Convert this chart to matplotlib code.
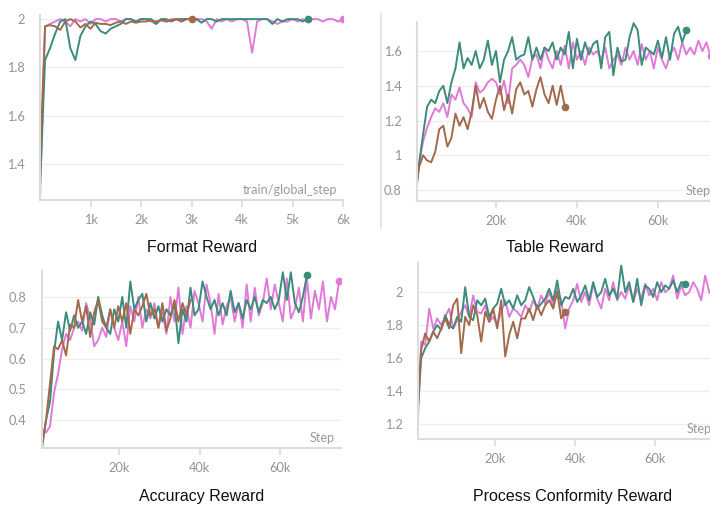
import numpy as np
import matplotlib
matplotlib.use("Agg")
import matplotlib.pyplot as plt
from matplotlib.lines import Line2D

# ---------------- data ----------------
PINK = "#e07ad8"
TEAL = "#3a8c7b"
BROWN = "#a2694b"

# Format Reward (logged every 100 steps)
fmt_interval = 100
fmt_pink = [1.25, 1.97, 1.98, 1.99, 2.0, 1.99, 1.97, 2.0, 1.99, 2.0,
            1.98, 2.0, 2.0, 1.99, 2.0, 2.0, 1.99, 2.0, 2.0, 1.99,
            2.0, 2.0, 1.99, 1.98, 2.0, 1.99, 2.0, 2.0, 1.99, 2.0,
            2.0, 2.0, 2.0, 1.99, 1.96, 2.0, 1.99, 2.0, 1.99, 2.0,
            2.0, 1.99, 1.86, 1.99, 2.0, 2.0, 1.99, 1.98, 1.99, 1.99,
            2.0, 1.99, 2.0, 1.99, 2.0, 2.0, 1.99, 2.0, 2.0, 1.99, 2.0]
fmt_teal = [1.31, 1.83, 1.88, 1.94, 1.99, 2.0, 1.88, 1.83, 1.93, 1.97,
            1.99, 1.98, 1.95, 1.94, 1.96, 1.97, 1.98, 2.0, 2.0, 1.99,
            2.0, 2.0, 2.0, 1.98, 2.0, 2.0, 1.99, 2.0, 2.0, 2.0,
            2.0, 2.0, 1.985, 2.0, 2.0, 1.99, 2.0, 2.0, 2.0, 2.0,
            2.0, 2.0, 2.0, 2.0, 2.0, 2.0, 1.98, 2.0, 1.99, 2.0,
            2.0, 2.0, 1.99, 2.0]
fmt_brown = [1.40, 1.97, 1.975, 1.97, 1.955, 1.99, 2.0, 1.99, 1.965, 1.98,
             1.96, 1.985, 1.98, 1.98, 1.975, 1.985, 1.99, 1.98, 1.99, 1.985,
             1.99, 1.99, 1.995, 1.99, 1.995, 1.99, 1.995, 2.0, 1.99, 2.0, 2.0]

# Table Reward (logged every 1000 steps)
tab_interval = 1000
tab_pink = [0.74, 0.95, 1.08, 1.16, 1.22, 1.27, 1.25, 1.30, 1.22, 1.35,
            1.32, 1.39, 1.30, 1.27, 1.22, 1.42, 1.36, 1.38, 1.42, 1.44,
            1.42, 1.35, 1.43, 1.30, 1.50, 1.52, 1.55, 1.52, 1.45, 1.56,
            1.58, 1.50, 1.62, 1.55, 1.50, 1.60, 1.52, 1.63, 1.50, 1.65,
            1.55, 1.60, 1.52, 1.62, 1.58, 1.60, 1.55, 1.62, 1.50, 1.55,
            1.58, 1.52, 1.62, 1.55, 1.60, 1.52, 1.64, 1.55, 1.60, 1.50,
            1.62, 1.55, 1.50, 1.58, 1.62, 1.55, 1.65, 1.58, 1.62, 1.58,
            1.66, 1.60, 1.65, 1.57]
tab_teal = [0.74, 0.95, 1.12, 1.28, 1.32, 1.30, 1.37, 1.40, 1.30, 1.42,
            1.50, 1.65, 1.50, 1.56, 1.52, 1.60, 1.50, 1.55, 1.66, 1.52,
            1.60, 1.42, 1.55, 1.60, 1.68, 1.55, 1.57, 1.58, 1.68, 1.55,
            1.62, 1.55, 1.62, 1.60, 1.65, 1.55, 1.62, 1.58, 1.71, 1.50,
            1.67, 1.55, 1.65, 1.58, 1.64, 1.66, 1.50, 1.68, 1.71, 1.46,
            1.62, 1.54, 1.55, 1.68, 1.76, 1.72, 1.52, 1.62, 1.60, 1.58,
            1.66, 1.56, 1.68, 1.55, 1.70, 1.74, 1.65, 1.72]
tab_brown = [0.74, 0.93, 1.00, 0.97, 0.96, 1.02, 1.15, 1.17, 1.05, 1.10,
             1.24, 1.17, 1.22, 1.15, 1.25, 1.40, 1.27, 1.33, 1.25, 1.21,
             1.32, 1.40, 1.26, 1.35, 1.24, 1.38, 1.42, 1.35, 1.37, 1.28,
             1.38, 1.45, 1.35, 1.30, 1.40, 1.29, 1.40, 1.28]

# Accuracy Reward (logged every 1000 steps, first at 700)
acc_start = 700
acc_interval = 1000
acc_pink = [0.37, 0.36, 0.38, 0.49, 0.55, 0.63, 0.68, 0.66, 0.70, 0.72,
            0.69, 0.78, 0.73, 0.64, 0.66, 0.70, 0.67, 0.76, 0.70, 0.66,
            0.72, 0.64, 0.77, 0.72, 0.80, 0.70, 0.76, 0.73, 0.78, 0.70,
            0.75, 0.68, 0.80, 0.72, 0.83, 0.68, 0.77, 0.70, 0.82, 0.78,
            0.72, 0.84, 0.78, 0.68, 0.81, 0.71, 0.77, 0.80, 0.72, 0.78,
            0.70, 0.84, 0.72, 0.83, 0.74, 0.78, 0.86, 0.76, 0.84, 0.78,
            0.72, 0.86, 0.73, 0.76, 0.83, 0.72, 0.86, 0.73, 0.82, 0.76,
            0.85, 0.72, 0.80, 0.76, 0.85]
acc_teal = [0.31, 0.40, 0.46, 0.62, 0.72, 0.66, 0.75, 0.69, 0.74, 0.70,
            0.72, 0.68, 0.75, 0.71, 0.80, 0.74, 0.70, 0.68, 0.76, 0.72,
            0.80, 0.70, 0.85, 0.76, 0.79, 0.81, 0.72, 0.78, 0.73, 0.77,
            0.72, 0.76, 0.74, 0.78, 0.65, 0.76, 0.72, 0.83, 0.74, 0.76,
            0.85, 0.80, 0.76, 0.79, 0.74, 0.78, 0.74, 0.82, 0.75, 0.78,
            0.73, 0.79, 0.76, 0.80, 0.75, 0.79, 0.78, 0.80, 0.76, 0.79,
            0.88, 0.79, 0.88, 0.78, 0.75, 0.80, 0.87]
acc_brown = [0.32, 0.40, 0.52, 0.64, 0.63, 0.66, 0.61, 0.71, 0.70, 0.79,
             0.72, 0.77, 0.67, 0.75, 0.79, 0.72, 0.70, 0.76, 0.70, 0.77,
             0.72, 0.78, 0.68, 0.76, 0.74, 0.77, 0.81, 0.74, 0.76, 0.70,
             0.78, 0.69, 0.73, 0.79, 0.72, 0.78, 0.74, 0.79]

# Process Conformity Reward (logged every 1000 steps, first at 500)
pro_start = 500
pro_interval = 1000
pro_pink = [1.11, 1.70, 1.68, 1.90, 1.78, 1.84, 1.80, 1.85, 1.90, 1.78,
            1.83, 1.88, 1.92, 1.85, 1.98, 1.88, 1.87, 1.92, 1.82, 1.85,
            1.80, 1.88, 1.95, 1.85, 1.90, 1.88, 1.85, 1.92, 1.88, 1.95,
            1.90, 1.98, 1.93, 2.00, 1.92, 2.02, 1.95, 1.78, 1.90, 1.95,
            2.05, 1.94, 2.00, 1.92, 2.05, 1.96, 1.90, 2.02, 1.95, 2.06,
            1.95, 2.00, 1.96, 2.04, 1.94, 2.02, 1.96, 2.05, 1.98, 2.02,
            1.95, 2.06, 2.00, 2.02, 2.10, 1.96, 2.04, 1.98, 2.00, 2.06,
            2.02, 1.95, 2.10, 2.00, 1.98]
pro_teal = [1.23, 1.60, 1.66, 1.70, 1.76, 1.80, 1.77, 1.86, 1.80, 1.78,
            1.85, 1.82, 2.03, 1.85, 1.83, 1.95, 1.92, 1.96, 1.85, 1.90,
            1.93, 2.02, 1.92, 1.95, 1.90, 1.98, 1.92, 1.95, 2.03, 1.97,
            1.90, 1.93, 1.96, 2.02, 1.95, 2.07, 1.92, 1.97, 1.96, 2.02,
            1.94, 1.98, 2.04, 1.95, 2.06, 1.97, 2.00, 2.08, 1.98, 2.02,
            1.96, 2.16, 2.00, 2.06, 1.94, 2.08, 1.92, 2.04, 2.02, 1.97,
            2.06, 2.00, 2.04, 2.02, 2.07, 2.00, 2.06, 2.05]
pro_brown = [1.28, 1.65, 1.75, 1.70, 1.76, 1.72, 1.78, 1.84, 1.78, 1.92,
             1.96, 1.63, 1.85, 1.80, 1.92, 1.86, 1.70, 1.88, 1.82, 1.90,
             1.78, 1.95, 1.61, 1.74, 1.82, 1.72, 1.84, 1.84, 1.90, 1.83,
             1.92, 1.86, 1.92, 1.95, 1.90, 2.00, 1.84, 1.88]

titles = ["Format Reward", "Table Reward", "Accuracy Reward", "Process Conformity Reward"]
xlabels = ["train/global_step", "Step", "Step", "Step"]

fmt_xticks = [1000, 2000, 3000, 4000, 5000, 6000]
fmt_xticklabels = ["1k", "2k", "3k", "4k", "5k", "6k"]
fmt_yticks = [1.4, 1.6, 1.8, 2.0]
fmt_yticklabels = ["1.4", "1.6", "1.8", "2"]

k_xticks = [20000, 40000, 60000]
k_xticklabels = ["20k", "40k", "60k"]
tab_yticks = [0.8, 1.0, 1.2, 1.4, 1.6]
tab_yticklabels = ["0.8", "1", "1.2", "1.4", "1.6"]
acc_yticks = [0.4, 0.5, 0.6, 0.7, 0.8]
acc_yticklabels = ["0.4", "0.5", "0.6", "0.7", "0.8"]
pro_yticks = [1.2, 1.4, 1.6, 1.8, 2.0]
pro_yticklabels = ["1.2", "1.4", "1.6", "1.8", "2"]

# ---------------- figure ----------------
W, H = 710, 505
fig = plt.figure(figsize=(W / 100, H / 100), dpi=100)
fig.patch.set_facecolor("white")

TICK_COL = "#92929c"
AXIS_COL = "#dcdcdc"
GRID_COL = "#eeeeee"
TICK_FONT = ["Lato", "DejaVu Sans"]


def px_axes(l, r, t, b):
    return fig.add_axes([l / W, 1 - b / H, (r - l) / W, (b - t) / H])


def style(ax, xlim, ylim, xt, xtl, yt, ytl, xlabel):
    ax.set_xlim(*xlim)
    ax.set_ylim(*ylim)
    ax.set_xticks(xt)
    ax.set_xticklabels(xtl)
    ax.set_yticks(yt)
    ax.set_yticklabels(ytl)
    for s in ["top", "right"]:
        ax.spines[s].set_visible(False)
    for s in ["left", "bottom"]:
        ax.spines[s].set_color(AXIS_COL)
        ax.spines[s].set_linewidth(1.5)
    ax.grid(axis="y", color=GRID_COL, lw=1.0)
    ax.set_axisbelow(True)
    ax.tick_params(axis="x", length=5, width=1.2, color=AXIS_COL, pad=5,
                   labelsize=9.2, labelcolor=TICK_COL)
    ax.tick_params(axis="y", length=0, pad=11, labelsize=9.2, labelcolor=TICK_COL)
    for lab in ax.get_xticklabels() + ax.get_yticklabels():
        lab.set_family(TICK_FONT)
    pos = ax.get_position()
    ax.text(1 - 6 / (pos.width * W), 4 / (pos.height * H), xlabel,
            transform=ax.transAxes, ha="right", va="bottom",
            fontsize=9.2, color="#9a9aa2", family=TICK_FONT)


def plot_series(ax, start, interval, vals, color, dot=True):
    x = start + interval * np.arange(len(vals))
    ax.plot(x, vals, color=color, lw=1.4, solid_joinstyle="round")
    if dot:
        ax.plot(x[-1], vals[-1], "o", color=color, ms=4.5, mec=color)


# Panel 1: Format Reward
ax1 = px_axes(40, 343, 15, 200)
plot_series(ax1, 0, fmt_interval, fmt_pink, PINK)
plot_series(ax1, 0, fmt_interval, fmt_teal, TEAL)
plot_series(ax1, 0, fmt_interval, fmt_brown, BROWN)
style(ax1, (0, 6000), (1.25, 2.017), fmt_xticks, fmt_xticklabels,
      fmt_yticks, fmt_yticklabels, xlabels[0])

# Panel 2: Table Reward
ax2 = px_axes(417, 717, 22, 201)
plot_series(ax2, 0, tab_interval, tab_pink, PINK)
plot_series(ax2, 0, tab_interval, tab_teal, TEAL)
plot_series(ax2, 0, tab_interval, tab_brown, BROWN)
style(ax2, (500, 74600), (0.737, 1.767), k_xticks, k_xticklabels,
      tab_yticks, tab_yticklabels, xlabels[1])

# Panel 3: Accuracy Reward
ax3 = px_axes(42, 341, 271, 448)
plot_series(ax3, acc_start, acc_interval, acc_pink, PINK)
plot_series(ax3, acc_start, acc_interval, acc_teal, TEAL)
plot_series(ax3, acc_start, acc_interval, acc_brown, BROWN, dot=False)
style(ax3, (700, 75200), (0.31, 0.884), k_xticks, k_xticklabels,
      acc_yticks, acc_yticklabels, xlabels[2])

# Panel 4: Process Conformity Reward
ax4 = px_axes(418, 718, 263, 439)
plot_series(ax4, pro_start, pro_interval, pro_pink, PINK)
plot_series(ax4, pro_start, pro_interval, pro_teal, TEAL)
plot_series(ax4, pro_start, pro_interval, pro_brown, BROWN)
style(ax4, (700, 75700), (1.11, 2.176), k_xticks, k_xticklabels,
      pro_yticks, pro_yticklabels, xlabels[3])

# separator line of the top-right panel
fig.add_artist(Line2D([381 / W, 381 / W], [1 - 13 / H, 1 - 228 / H],
                      color="#e2e2e2", lw=1.2))

# titles below each panel
title_pos = [(202, 248), (555, 248), (202, 497), (573, 496)]
for t, (x, y) in zip(titles, title_pos):
    fig.text(x / W, 1 - y / H, t, ha="center", va="center", fontsize=11.5,
             family=["Liberation Sans", "DejaVu Sans"], color="#111111")

fig.savefig("out.png", dpi=100)
